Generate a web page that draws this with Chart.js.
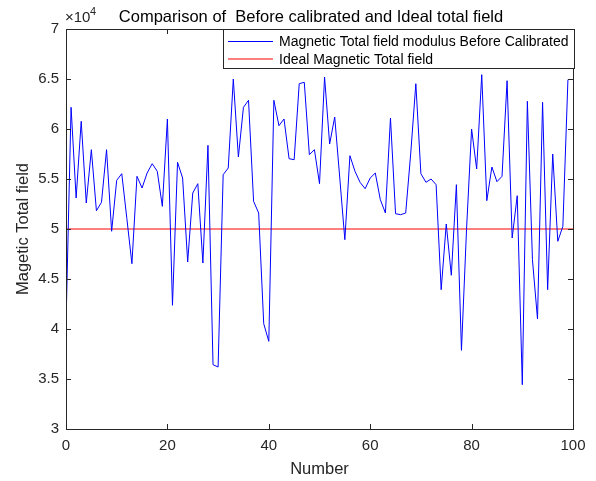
<!DOCTYPE html>
<html>
<head>
<meta charset="utf-8">
<script src="https://cdn.jsdelivr.net/npm/chart.js@4.4.1/dist/chart.umd.min.js"></script>
<style>
  html, body { margin: 0; padding: 0; background: #fff; }
  #wrap { width: 596px; height: 481px; }
</style>
</head>
<body>
<div id="wrap"><canvas id="chart" width="596" height="481"></canvas></div>
<script>
// Data
const sampleNumbers = Array.from({ length: 100 }, (_, i) => i);
const beforeCalibrated = [
  40430, 62170, 53100, 60770, 52600, 57930, 51830, 52670, 57930, 49770,
  54870, 55530, 51060, 46530, 55270, 54100, 55600, 56530, 55770, 52270,
  61000, 42370, 56670, 55100, 46700, 53600, 54530, 46600, 58370, 36430,
  36200, 55430, 56100, 65000, 57200, 62170, 62870, 52770, 51600, 40530,
  38770, 62870, 60330, 61000, 57030, 56930, 64530, 64670, 57430, 57930,
  54530, 65200, 58500, 61200, 55100, 48930, 57330, 55770, 54670, 54030,
  55100, 55600, 52930, 51600, 61100, 51530, 51430, 51600, 57600, 64530,
  55530, 54670, 55000, 54430, 43930, 50500, 45370, 54430, 37870, 49930,
  60000, 56000, 65430, 52830, 56200, 54730, 55270, 64830, 49100, 53330,
  34430, 62770, 46930, 41000, 62670, 43930, 57500, 48770, 50270, 64930
];
const idealX = [0, 100];
const idealY = [50000, 50000];

const seriesLabels = ["Magnetic Total field modulus Before Calibrated", "Ideal Magnetic Total field"];
const titleText = "Comparison of  Before calibrated and Ideal total field";
const xLabel = "Number";
const yLabel = "Magetic Total field";

const axisColor = "#262626";
const fontFamily = "'Liberation Sans', Arial, Helvetica, sans-serif";

// Draws the MATLAB-style box, inward ticks, titles, exponent and legend
const matlabDecor = {
  id: "matlabDecor",
  afterDraw(chart) {
    const ctx = chart.ctx;
    const a = chart.chartArea;
    const xs = chart.scales.x, ys = chart.scales.y;
    ctx.save();
    ctx.strokeStyle = axisColor;
    ctx.lineWidth = 1;
    ctx.strokeRect(Math.round(a.left) + 0.5, Math.round(a.top) + 0.5,
      Math.round(a.right - a.left), Math.round(a.bottom - a.top));

    const tl = 5;
    ctx.beginPath();
    xs.ticks.forEach(t => {
      const px = Math.round(xs.getPixelForValue(t.value)) + 0.5;
      ctx.moveTo(px, a.bottom); ctx.lineTo(px, a.bottom - tl);
      ctx.moveTo(px, a.top); ctx.lineTo(px, a.top + tl);
    });
    ys.ticks.forEach(t => {
      const py = Math.round(ys.getPixelForValue(t.value)) + 0.5;
      ctx.moveTo(a.left, py); ctx.lineTo(a.left + tl, py);
      ctx.moveTo(a.right, py); ctx.lineTo(a.right - tl, py);
    });
    ctx.stroke();

    ctx.fillStyle = "#000";
    ctx.textAlign = "center";
    ctx.textBaseline = "alphabetic";
    ctx.font = "16.5px " + fontFamily;
    ctx.fillText(titleText, 311, 22);

    ctx.fillStyle = axisColor;
    ctx.fillText(xLabel, (a.left + a.right) / 2, 474);
    ctx.save();
    ctx.translate(28, (a.top + a.bottom) / 2);
    ctx.rotate(-Math.PI / 2);
    ctx.fillText(yLabel, 0, 0);
    ctx.restore();

    // exponent
    ctx.textAlign = "left";
    ctx.font = "15px " + fontFamily;
    ctx.fillText("\u00d710", 65, 22);
    ctx.font = "11px " + fontFamily;
    ctx.fillText("4", 90, 15);

    // legend
    const lx = 223, ly = Math.round(a.top) + 0.5, lw = 351, lh = 39;
    ctx.fillStyle = "#fff";
    ctx.fillRect(lx, ly, lw, lh);
    ctx.strokeStyle = axisColor;
    ctx.strokeRect(lx + 0.5, ly, lw, lh);
    ctx.font = "14px " + fontFamily;
    ctx.textBaseline = "middle";
    chart.data.datasets.forEach((ds, i) => {
      const y = ly + 12 + i * 17.5;
      ctx.strokeStyle = ds.borderColor;
      ctx.beginPath();
      ctx.moveTo(228, y); ctx.lineTo(273, y);
      ctx.stroke();
      ctx.fillStyle = "#000";
      ctx.fillText(ds.label, 279, y + 1);
    });
    ctx.restore();
  }
};

new Chart(document.getElementById("chart"), {
  type: "scatter",
  plugins: [matlabDecor],
  data: {
    datasets: [
      {
        label: seriesLabels[0],
        data: sampleNumbers.map((n, i) => ({ x: n, y: beforeCalibrated[i] })),
        showLine: true,
        borderColor: "#0000ff",
        borderWidth: 1,
        pointRadius: 0,
        tension: 0
      },
      {
        label: seriesLabels[1],
        data: idealX.map((n, i) => ({ x: n, y: idealY[i] })),
        showLine: true,
        borderColor: "#ff0000",
        borderWidth: 1,
        pointRadius: 0,
        tension: 0
      }
    ]
  },
  options: {
    responsive: false,
    animation: false,
    events: [],
    layout: { padding: { left: 0, top: 29, right: 23, bottom: 0 } },
    plugins: {
      legend: { display: false },
      title: { display: false },
      tooltip: { enabled: false }
    },
    scales: {
      x: {
        type: "linear",
        min: 0,
        max: 100,
        grid: { display: false, drawTicks: false },
        border: { display: false },
        ticks: {
          stepSize: 20,
          padding: 8,
          color: axisColor,
          font: { family: fontFamily, size: 15 }
        },
        afterFit(scale) { scale.height = 52; }
      },
      y: {
        min: 30000,
        max: 70000,
        grid: { display: false, drawTicks: false },
        border: { display: false },
        ticks: {
          stepSize: 5000,
          padding: 7,
          color: axisColor,
          font: { family: fontFamily, size: 15 },
          callback: v => (v / 10000).toString()
        },
        afterFit(scale) { scale.width = 66; }
      }
    }
  }
});
</script>
</body>
</html>
